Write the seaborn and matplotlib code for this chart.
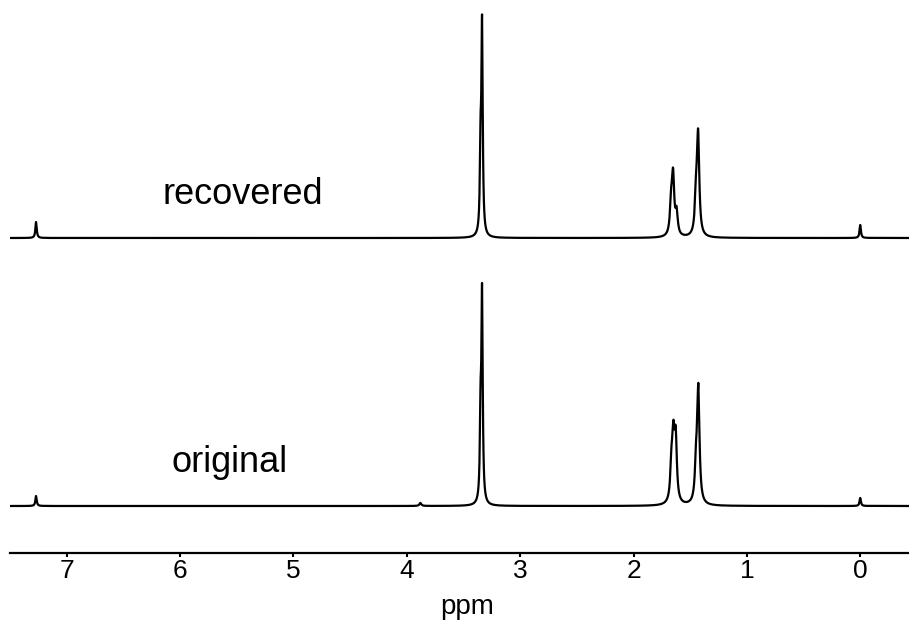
import numpy
import pandas
import seaborn
import matplotlib
matplotlib.use('Agg')
import matplotlib.pyplot as pyplt

# peak lists: shift (ppm), intensity (arbitrary units),
# half width at half height (ppm)
recovered_shifts = [7.27, 3.349, 3.336, 1.668, 1.651, 1.620, 1.448, 1.430, 0.00]
recovered_heights = [16, 78, 206, 30, 57, 22, 36, 98, 13]
recovered_widths = [0.007, 0.007, 0.007, 0.012, 0.012, 0.012, 0.012, 0.012, 0.007]

original_shifts = [7.27, 3.88, 3.349, 3.336, 1.665, 1.648, 1.628, 1.448, 1.428, 0.00]
original_heights = [10, 3, 80, 205, 35, 58, 61, 36, 113, 8]
original_widths = [0.007, 0.01, 0.007, 0.007, 0.012, 0.012, 0.012, 0.012, 0.012, 0.007]

tick_values = [7, 6, 5, 4, 3, 2, 1, 0]
trace_labels = ['recovered', 'original']
trace_offsets = [268, 0]


def spectrum(ppm, shifts, heights, widths):
    y = numpy.zeros_like(ppm)
    for c, h, g in zip(shifts, heights, widths):
        y += h * g**2 / (g**2 + (ppm - c)**2)
    return y


ppm = numpy.arange(-0.45, 7.52, 0.0005)
frames = []
for label, offset, shifts, heights, widths in zip(
        trace_labels, trace_offsets,
        [recovered_shifts, original_shifts],
        [recovered_heights, original_heights],
        [recovered_widths, original_widths]):
    frames.append(pandas.DataFrame({
        'ppm': ppm,
        'intensity': spectrum(ppm, shifts, heights, widths) + offset,
        'trace': label,
    }))
data = pandas.concat(frames, ignore_index=True)

seaborn.set_style('ticks')
pyplt.rcParams['font.family'] = ['Liberation Sans', 'DejaVu Sans']
pyplt.rcParams['text.color'] = 'black'
pyplt.rcParams['axes.labelcolor'] = 'black'
pyplt.rcParams['xtick.color'] = 'black'
pyplt.rcParams['axes.edgecolor'] = 'black'

fig = pyplt.figure(figsize=(9.09, 6.24), dpi=100)
ax = fig.add_axes([10 / 909, 71 / 624, 899 / 909, 553 / 624])

seaborn.lineplot(
    data=data, x='ppm', y='intensity', units='trace', estimator=None,
    color='black', linewidth=1.6, sort=False, ax=ax,
)

ax.set_xlim(7.50, -0.43)
ax.set_ylim(-47, 506)
ax.set_xticks(tick_values)
ax.set_xticklabels([str(t) for t in tick_values])
ax.set_yticks([])
ax.set_ylabel('')
ax.set_xlabel('ppm', fontsize=20)
ax.xaxis.label.set_va('center')
ax.xaxis.set_label_coords(0.509, -0.098)
ax.tick_params(axis='x', direction='out', length=3, width=1.5,
               labelsize=19, pad=1)

seaborn.despine(ax=ax, left=True, top=True, right=True)
ax.spines['bottom'].set_linewidth(1.6)

ax.text(5.45, 311, 'recovered', fontsize=26, ha='center', va='center')
ax.text(5.56, 43, 'original', fontsize=26, ha='center', va='center')

fig.savefig('out.png', dpi=100)
